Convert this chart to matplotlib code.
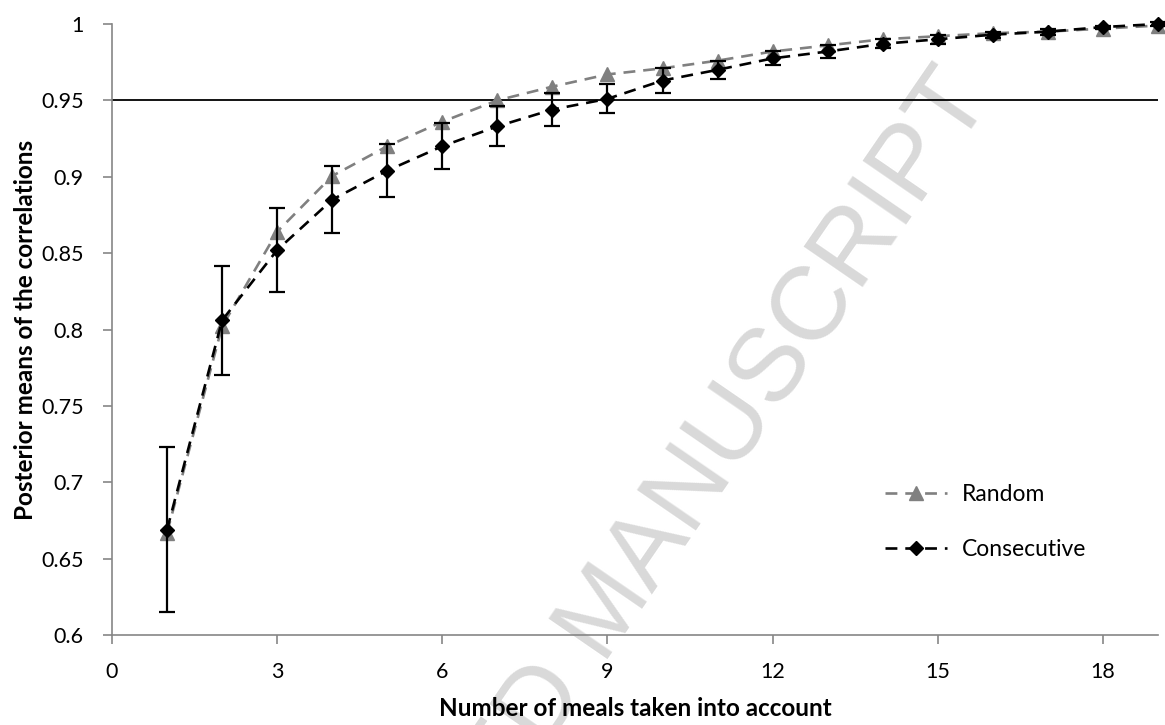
import matplotlib
matplotlib.use("Agg")
import matplotlib.pyplot as plt
from matplotlib.ticker import FuncFormatter

# number of meals taken into account
meals = list(range(1, 20))

# posterior means of the correlations
random_means = [0.667, 0.802, 0.864, 0.9005, 0.920, 0.936, 0.950, 0.959, 0.967, 0.971,
                0.976, 0.982, 0.986, 0.990, 0.992, 0.994, 0.995, 0.997, 0.999]
consecutive_means = [0.669, 0.806, 0.852, 0.885, 0.904, 0.920, 0.933, 0.944, 0.951, 0.963,
                     0.970, 0.9775, 0.982, 0.987, 0.990, 0.993, 0.995, 0.998, 1.000]
consecutive_err = [0.054, 0.0355, 0.0275, 0.022, 0.0175, 0.015, 0.013, 0.011, 0.0095, 0.008,
                   0.006, 0.0045, 0.004, 0.003, 0.003, 0.002, 0.002, 0.001, 0.001]

threshold = 0.95
x_ticks = [0, 3, 6, 9, 12, 15, 18]
y_ticks = [0.6, 0.65, 0.7, 0.75, 0.8, 0.85, 0.9, 0.95, 1.0]

plt.rcParams['font.family'] = ['Lato', 'DejaVu Sans']

W, H = 1165, 725
fig = plt.figure(figsize=(W / 100, H / 100), dpi=100)
fig.patch.set_facecolor('white')

# watermark behind everything
fig.text(608 / W, 1 - 612 / H, "ACCEPTED MANUSCRIPT", fontsize=75, color='#d9d9d9',
         family='Liberation Sans', rotation=55.5, rotation_mode='anchor',
         ha='center', va='center', zorder=-1)

ax = fig.add_axes([112 / W, (H - 635) / H, (1158 - 112) / W, (635 - 24) / H])
ax.set_facecolor('none')

spine_col = '#868686'
dash = (0, (4.5, 3))

ax.axhline(threshold, color='black', lw=1.3, zorder=2)

ax.plot(meals, random_means, color='#808080', lw=1.9, linestyle=dash,
        marker='^', markersize=10, markerfacecolor='#808080', markeredgecolor='#808080',
        label='Random', zorder=3, clip_on=False)
ax.errorbar(meals, consecutive_means, yerr=consecutive_err, fmt='none', ecolor='black',
            elinewidth=1.6, capsize=5.5, capthick=1.6, zorder=4, clip_on=False)
ax.plot(meals, consecutive_means, color='black', lw=1.9, linestyle=dash,
        marker='D', markersize=7, markerfacecolor='black', markeredgecolor='black',
        label='Consecutive', zorder=5, clip_on=False)

ax.set_xlim(0, 19)
ax.set_ylim(0.6, 1.0)
ax.set_xticks(x_ticks)
ax.set_yticks(y_ticks)
ax.yaxis.set_major_formatter(FuncFormatter(lambda v, p: f"{v:g}"))

for side in ['top', 'right']:
    ax.spines[side].set_visible(False)
for side in ['left', 'bottom']:
    ax.spines[side].set_color(spine_col)
    ax.spines[side].set_linewidth(1.2)

ax.tick_params(axis='both', direction='out', length=6.5, width=1.2, color=spine_col,
               labelsize=15.5, labelcolor='black')
ax.tick_params(axis='y', pad=14)
ax.tick_params(axis='x', pad=13)

ax.set_xlabel("Number of meals taken into account", fontsize=17.5, fontweight='bold', labelpad=11)
ax.set_ylabel("Posterior means of the correlations", fontsize=17.5, fontweight='bold', labelpad=3)

ax.legend(loc='center left', bbox_to_anchor=(885 / W, 1 - 522 / H), bbox_transform=fig.transFigure,
          frameon=False, fontsize=16.5, handlelength=2.7, handletextpad=0.65,
          labelspacing=1.5, borderpad=0, borderaxespad=0)

fig.savefig('out.png', dpi=100, facecolor='white')
